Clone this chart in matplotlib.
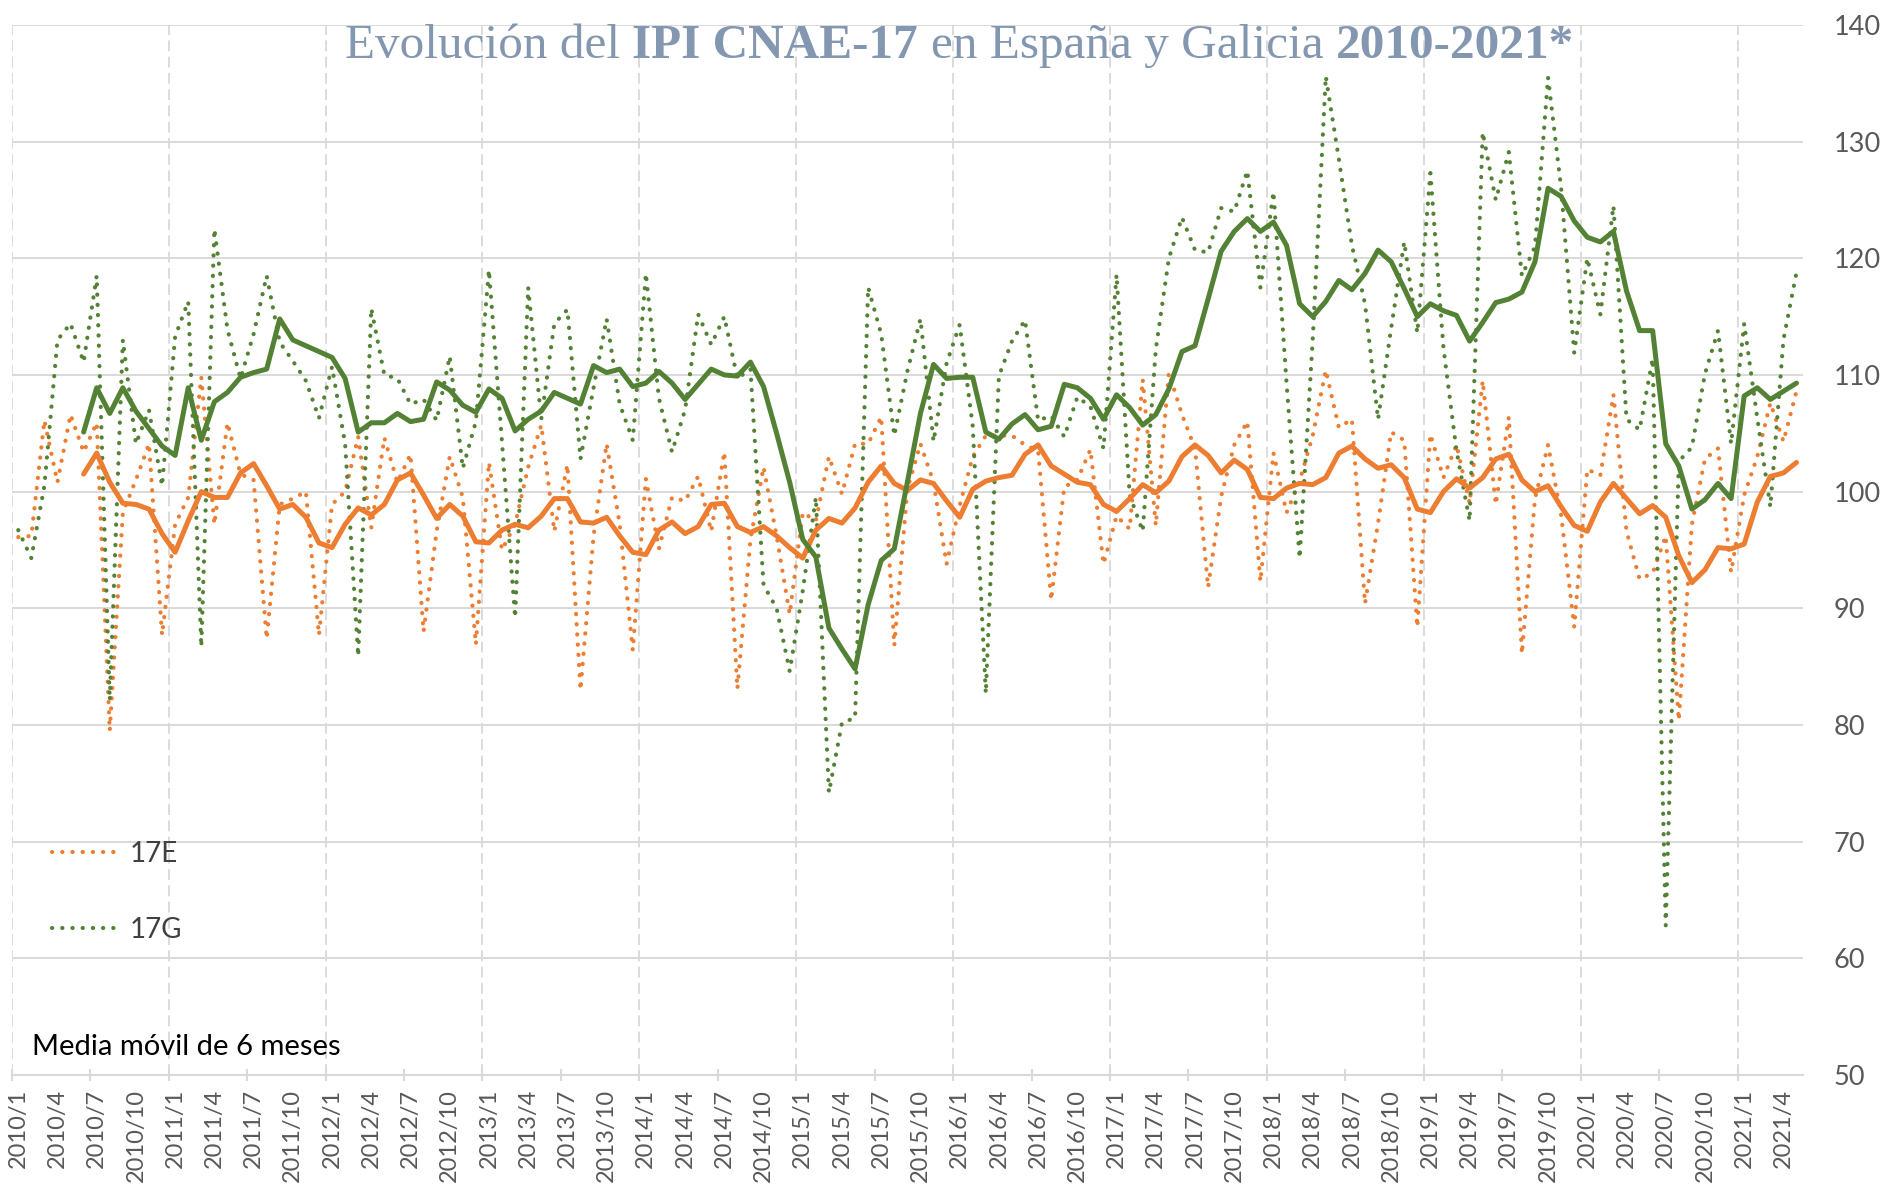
import numpy as np
import matplotlib
matplotlib.use("Agg")
import matplotlib.pyplot as plt

plt.rcParams['font.family'] = ['Lato', 'DejaVu Sans']

# meses 2010/1 .. 2021/5
months = [f"{y}/{m}" for y in range(2010, 2022) for m in range(1, 13)][:137]

# IPI CNAE-17 España (17E)
ipi_17e = [96.1, 96.2, 106.1, 100.8, 106.6, 103.4, 105.9, 79.5, 98.2, 101.0, 104.1, 87.7,
           97.2, 99.5, 109.8, 97.2, 105.9, 101.5, 101.0, 87.4, 98.9, 99.4, 100.0, 87.7,
           98.9, 100.0, 104.7, 96.9, 104.6, 100.8, 103.2, 88.0, 96.6, 103.0, 99.5, 86.9,
           102.5, 95.0, 97.2, 102.1, 105.7, 96.6, 102.3, 83.0, 96.2, 104.1, 97.2, 86.4,
           101.1, 95.1, 99.5, 99.2, 101.3, 96.6, 103.4, 83.1, 95.9, 102.1, 96.2, 89.5,
           98.2, 97.5, 103.0, 99.8, 104.1, 104.1, 106.4, 86.8, 100.2, 104.1, 100.8, 93.8,
           98.8, 103.0, 104.8, 104.8, 104.8, 104.0, 103.5, 90.7, 100.4, 101.0, 103.6, 93.8,
           97.9, 96.8, 109.6, 97.1, 110.2, 106.6, 103.7, 91.8, 99.6, 104.0, 106.0, 92.3,
           103.3, 98.2, 100.9, 104.8, 110.4, 105.5, 106.2, 90.4, 97.3, 105.1, 104.4, 88.4,
           104.9, 101.2, 104.0, 99.0, 109.5, 98.9, 106.4, 86.1, 99.4, 104.0, 98.0, 88.4,
           101.9, 101.4, 108.3, 96.6, 92.5, 93.0, 96.2, 80.4, 97.2, 102.8, 103.7, 93.1,
           99.7, 103.0, 107.6, 104.3, 108.6]

# IPI CNAE-17 Galicia (17G)
ipi_17g = [96.7, 94.3, 100.5, 113.0, 114.4, 111.1, 118.5, 82.1, 113.0, 104.1, 107.0, 100.5,
           113.3, 116.3, 86.7, 122.5, 113.9, 109.7, 113.5, 118.5, 112.8, 111.2, 109.5, 106.3,
           110.7, 104.1, 85.9, 115.7, 110.0, 109.7, 107.5, 107.9, 106.1, 111.6, 102.0, 106.0,
           119.0, 104.2, 89.2, 117.5, 106.2, 114.4, 115.6, 102.8, 108.9, 114.8, 107.5, 104.4,
           118.7, 108.0, 103.4, 107.0, 115.2, 112.6, 115.0, 109.7, 110.5, 92.0, 90.0, 84.6,
           91.5, 99.5, 74.2, 80.2, 80.6, 117.5, 113.5, 104.8, 110.3, 114.8, 104.3, 111.0,
           114.3, 105.6, 82.7, 109.9, 112.9, 114.7, 106.1, 106.5, 104.7, 108.1, 107.3, 103.7,
           118.6, 99.7, 96.6, 112.2, 120.0, 123.5, 120.7, 120.5, 124.3, 124.0, 127.5, 117.5,
           125.7, 109.3, 94.3, 113.0, 135.6, 128.5, 121.1, 116.1, 106.2, 114.0, 121.4, 113.6,
           127.3, 112.3, 103.5, 97.5, 130.8, 125.0, 129.1, 118.5, 121.0, 135.5, 126.0, 111.9,
           120.0, 115.2, 124.5, 106.2, 105.3, 111.4, 62.8, 102.6, 103.8, 110.1, 113.8, 104.1,
           114.4, 106.3, 98.7, 113.0, 118.8]

# media movil de 6 meses, desde 2010/6
mm6_17e = [101.5, 103.3, 100.8, 99.0, 98.9, 98.5, 96.4,
           94.8, 97.5, 100.0, 99.5, 99.5, 101.6, 102.4, 100.5, 98.5, 98.9, 97.8, 95.6,
           95.2, 97.2, 98.6, 98.0, 98.9, 101.0, 101.6, 99.7, 97.7, 98.9, 97.9, 95.7,
           95.6, 96.7, 97.2, 96.9, 97.9, 99.4, 99.4, 97.4, 97.3, 97.8, 96.2, 94.8,
           94.6, 96.7, 97.4, 96.4, 97.0, 98.9, 99.0, 97.0, 96.5, 97.0, 96.2, 95.2,
           94.3, 96.7, 97.7, 97.3, 98.6, 100.8, 102.2, 100.7, 100.1, 101.0, 100.7, 99.2,
           97.8, 100.2, 100.9, 101.2, 101.4, 103.2, 104.0, 102.2, 101.5, 100.8, 100.6, 98.9,
           98.3, 99.4, 100.6, 99.9, 100.9, 103.0, 104.0, 103.1, 101.6, 102.7, 101.9, 99.5,
           99.4, 100.3, 100.7, 100.6, 101.2, 103.3, 103.9, 102.8, 102.0, 102.3, 101.2, 98.5,
           98.2, 100.0, 101.1, 100.3, 101.2, 102.8, 103.2, 101.0, 100.0, 100.5, 98.7, 97.1,
           96.6, 99.1, 100.7, 99.4, 98.1, 98.8, 97.8, 94.5, 92.2, 93.3, 95.2, 95.1,
           95.5, 99.1, 101.3, 101.6, 102.5]

mm6_17g = [105.1, 108.9, 106.7, 108.9, 106.9, 105.4, 103.9,
           103.1, 108.9, 104.4, 107.7, 108.5, 109.8, 110.2, 110.5, 114.8, 113.0, 112.5, 112.0,
           111.5, 109.7, 105.1, 105.9, 105.9, 106.7, 106.0, 106.2, 109.4, 108.7, 107.4, 106.8,
           108.8, 108.0, 105.2, 106.2, 106.9, 108.5, 108.0, 107.5, 110.8, 110.2, 110.5, 109.0,
           109.3, 110.3, 109.3, 107.9, 109.2, 110.5, 110.0, 109.9, 111.1, 109.0, 105.0, 100.8,
           95.9, 94.4, 88.3, 86.5, 84.8, 90.3, 94.1, 95.1, 100.8, 106.7, 110.9, 109.7,
           109.8, 109.8, 105.1, 104.5, 105.8, 106.6, 105.3, 105.6, 109.2, 108.9, 108.0, 106.2,
           108.3, 107.2, 105.7, 106.6, 108.8, 112.0, 112.5, 116.5, 120.6, 122.3, 123.4, 122.3,
           123.1, 121.1, 116.1, 115.0, 116.3, 118.1, 117.3, 118.7, 120.7, 119.7, 117.4, 115.0,
           116.1, 115.5, 115.1, 112.9, 114.5, 116.2, 116.5, 117.1, 119.7, 126.0, 125.3, 123.2,
           121.8, 121.4, 122.3, 117.2, 113.8, 113.8, 104.1, 102.2, 98.5, 99.3, 100.7, 99.4,
           108.2, 108.9, 107.9, 108.6, 109.3]

orange = '#ED7D31'
green = '#548235'
grey_txt = '#595959'
grid_c = '#D9D9D9'

x = np.arange(len(months)) + 0.5
x_mm = x[len(months) - len(mm6_17e):]

fig = plt.figure(figsize=(18.87, 11.87), dpi=100)
ax = fig.add_axes([0.0062, 0.0944, 0.9493, 0.8846])

dots = (0, (0.05, 2.4))
ax.plot(x, ipi_17e, color=orange, lw=3.0, linestyle=dots, dash_capstyle='round', label='17E')
ax.plot(x, ipi_17g, color=green, lw=3.0, linestyle=dots, dash_capstyle='round', label='17G')
ax.plot(x_mm, mm6_17e, color=orange, lw=3.6, solid_capstyle='round')
ax.plot(x_mm, mm6_17g, color=green, lw=3.6, solid_capstyle='round')

ax.set_xlim(0, len(months))
ax.set_ylim(50, 140)

# ejes
ax.yaxis.tick_right()
ax.set_yticks(range(50, 141, 10))
ax.tick_params(axis='y', length=0, pad=22, labelsize=19.5, labelcolor=grey_txt)
ax.set_xticks(x[::3])
ax.set_xticklabels(months[::3], rotation=90)
ax.tick_params(axis='x', length=0, pad=10, labelsize=17, labelcolor=grey_txt)
ax.set_xticks(np.arange(0, len(months), 6), minor=True)
ax.tick_params(axis='x', which='minor', direction='inout', length=8, width=1.5, color=grid_c)

ax.grid(axis='y', color=grid_c, lw=1.4)
for k in range(0, len(months), 12):
    ax.axvline(k, color=grid_c, lw=1.3, linestyle=(0, (6, 3)), zorder=0)
ax.set_axisbelow(True)
for s in ['top', 'left', 'right']:
    ax.spines[s].set_visible(False)
ax.spines['bottom'].set_color(grid_c)
ax.spines['bottom'].set_linewidth(1.5)

ax.legend(loc='upper left', bbox_to_anchor=(0.0225, 0.2227), frameon=False, fontsize=20,
          handlelength=2.5, handletextpad=0.3, labelspacing=1.8, borderpad=0, borderaxespad=0,
          labelcolor='#404040')

fig.text(0.017, 0.1112, 'Media móvil de 6 meses', fontsize=21, color='black', va='baseline')

# titulo con partes en negrita
title_parts = [("Evolución del", 'normal'), ("IPI CNAE-17", 'bold'),
               ("en España y Galicia", 'normal'), ("2010-2021*", 'bold')]
renderer = fig.canvas.get_renderer()
tfont = dict(family='Liberation Serif', fontsize=35.5, color='#8497B0', va='baseline')
probe = fig.text(0, 0, "x x", **tfont)
probe2 = fig.text(0, 0, "xx", **tfont)
space_w = (probe.get_window_extent(renderer).width - probe2.get_window_extent(renderer).width) / fig.bbox.width
probe.remove()
probe2.remove()
tx = 345 / 1887
for s, w in title_parts:
    t = fig.text(tx, 1 - 58 / 1187, s, fontweight=w, **tfont)
    tx += t.get_window_extent(renderer).width / fig.bbox.width + space_w

fig.savefig('out.png', dpi=100)
